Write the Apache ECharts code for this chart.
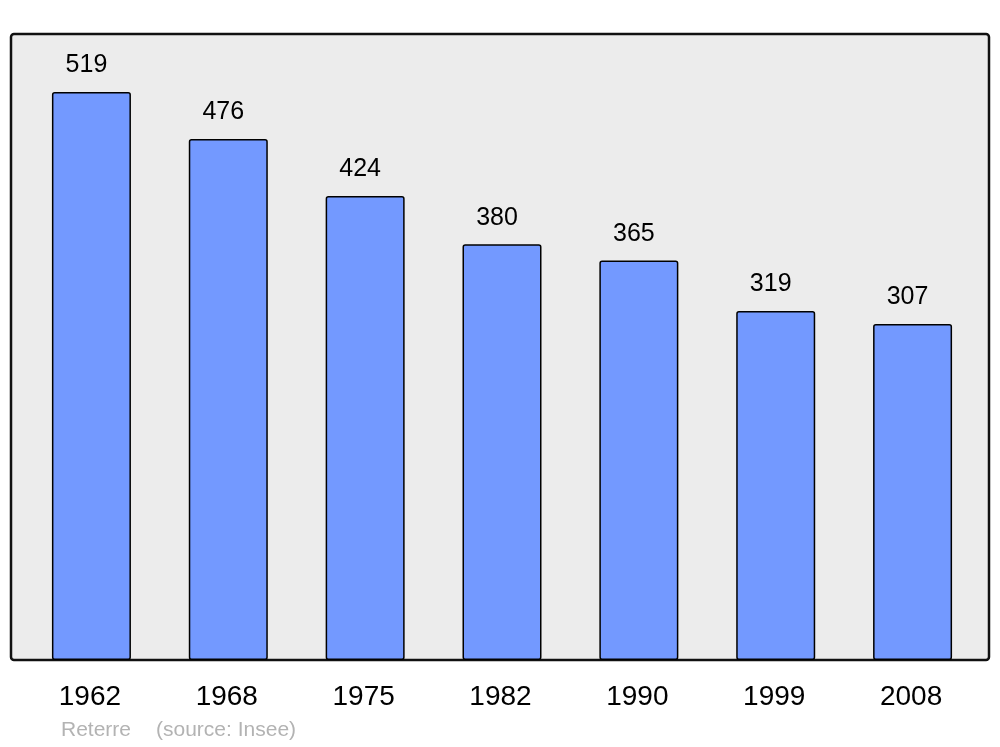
<!DOCTYPE html>
<html>
<head>
<meta charset="utf-8">
<script src="https://cdn.jsdelivr.net/npm/echarts@6/dist/echarts.min.js"></script>
<style>
  html, body { margin: 0; padding: 0; background: #fff; }
</style>
</head>
<body>
<div id="main" style="width: 1000px; height: 747px"></div>
<script>
var years = ['1962', '1968', '1975', '1982', '1990', '1999', '2008']
var population = [519, 476, 424, 380, 365, 319, 307]
var author = 'Reterre'
var source = '(source: Insee)'

var chart = echarts.init(document.getElementById('main'))

var option = {
  animation: false,
  textStyle: {
    fontFamily: 'Liberation Sans, Arial, sans-serif'
  },
  graphic: [
    {
      type: 'rect',
      z: -10,
      shape: { x: 11, y: 34, width: 978, height: 626, r: 3 },
      style: { fill: '#ececec', stroke: '#111', lineWidth: 2.5 }
    },
    {
      type: 'text',
      left: 61,
      top: 720,
      style: {
        text: author,
        fill: '#b3b3b3',
        font: '21px "Liberation Sans", Arial, sans-serif'
      }
    },
    {
      type: 'text',
      left: 156,
      top: 720,
      style: {
        text: source,
        fill: '#b3b3b3',
        font: '21px "Liberation Sans", Arial, sans-serif'
      }
    }
  ],
  grid: {
    left: 23,
    right: 19,
    top: 34,
    bottom: 87
  },
  xAxis: {
    type: 'category',
    data: years,
    axisLine: { show: false },
    axisTick: { show: false },
    axisLabel: {
      color: '#000',
      fontSize: 28,
      margin: 23,
      padding: [0, 3, 0, 0]
    }
  },
  yAxis: {
    type: 'value',
    min: 0,
    max: 572,
    show: false,
    splitLine: { show: false }
  },
  series: [
    {
      name: 'Population',
      type: 'bar',
      barWidth: 79,
      data: population,
      itemStyle: {
        color: '#7399ff',
        borderColor: '#000',
        borderWidth: 1.5,
        borderRadius: 2
      },
      label: {
        show: true,
        position: 'top',
        distance: 14,
        offset: [-5, 0],
        color: '#000',
        fontSize: 25
      }
    }
  ]
}

chart.setOption(option)
</script>
</body>
</html>
